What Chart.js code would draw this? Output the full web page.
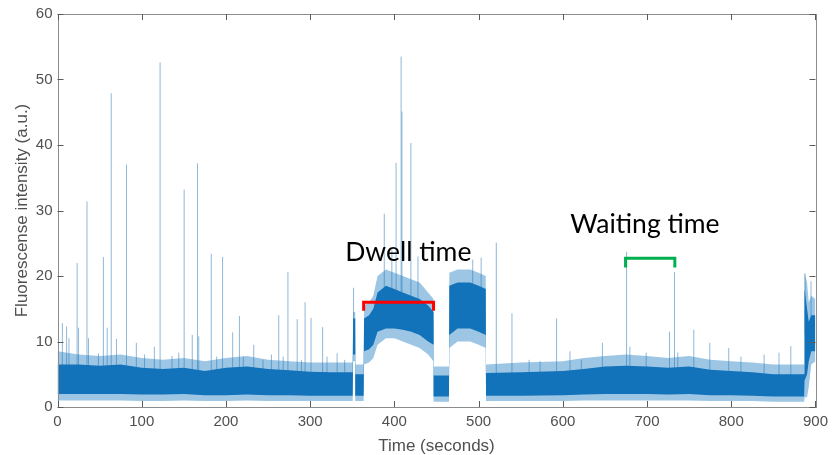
<!DOCTYPE html>
<html>
<head>
<meta charset="utf-8">
<script src="https://cdn.jsdelivr.net/npm/chart.js@4.4.0/dist/chart.umd.min.js"></script>
<style>
  html, body { margin: 0; padding: 0; background: #fff; }
  #wrap { width: 834px; height: 455px; }
</style>
</head>
<body>
<div id="wrap"><canvas id="trace"></canvas></div>
<script>
/*************** DATA ***************/
// noise band of the trace: times (s) and its edges (a.u.)
const bandTime = [0, 25, 50, 75, 100, 125, 150, 175, 200, 225, 250, 275, 300, 325, 350.5,
  351, 353.5, 353.8, 363.5,
  364, 370, 375, 380, 390, 400, 410, 420, 430, 440, 446.5,
  446.8, 464.8,
  465.2, 475, 490, 500, 508.5,
  508.8, 550, 600, 625, 650, 675, 700, 725, 750, 775, 800, 825, 850, 886.5,
  887, 890, 892, 895, 900];
const edgeLow = [1.0, 1.0, 1.0, 1.0, 0.9, 0.9, 1.0, 0.9, 0.9, 1.0, 0.9, 0.9, 0.9, 0.9, 0.9,
  7.0, 7.0, 0.9, 0.9,
  6.5, 6.8, 7.5, 9.5, 10.5, 10.5, 10.0, 9.5, 9.0, 8.0, 7.0,
  0.8, 0.8,
  9.0, 10.0, 10.0, 9.5, 9.0,
  0.9, 0.9, 0.9, 1.0, 1.0, 1.0, 1.0, 1.0, 1.0, 0.9, 0.9, 0.9, 0.8, 0.8,
  1.5, 1.5, 3.0, 6.5, 7.0];
const coreLow = [2.0, 2.0, 2.0, 2.0, 1.9, 1.9, 2.0, 1.8, 1.8, 1.9, 1.8, 1.8, 1.7, 1.7, 1.7,
  8.0, 8.0, 1.7, 1.7,
  8.5, 8.8, 9.5, 11.5, 12.0, 12.0, 11.8, 11.5, 11.0, 10.0, 9.5,
  1.6, 1.6,
  11.0, 12.0, 12.0, 11.5, 11.0,
  1.7, 1.7, 1.8, 1.9, 2.0, 2.0, 2.0, 1.9, 2.0, 1.8, 1.8, 1.7, 1.6, 1.6,
  4.0, 5.0, 7.0, 8.5, 8.5];
const coreHigh = [6.5, 6.5, 6.3, 6.5, 6.0, 5.8, 6.0, 5.5, 6.0, 6.2, 5.8, 5.6, 5.4, 5.3, 5.3,
  13.5, 13.5, 5.0, 5.0,
  13.5, 14.0, 15.0, 17.5, 18.5, 18.0, 17.5, 17.0, 16.5, 15.5, 14.5,
  4.8, 4.8,
  18.5, 19.0, 19.0, 18.5, 18.0,
  5.2, 5.3, 5.5, 5.8, 6.2, 6.3, 6.2, 6.0, 6.2, 5.7, 5.5, 5.3, 5.0, 5.0,
  18.0, 15.0, 13.0, 14.0, 14.0];
const edgeHigh = [8.5, 8.0, 7.8, 8.0, 7.5, 7.2, 7.5, 7.0, 7.5, 7.8, 7.2, 7.0, 6.8, 6.8, 6.8,
  14.5, 14.5, 6.5, 6.5,
  15.5, 16.0, 17.0, 20.0, 21.0, 20.5, 20.0, 19.5, 19.0, 17.5, 16.5,
  6.2, 6.2,
  20.5, 21.0, 21.0, 20.5, 20.0,
  6.5, 6.8, 7.0, 7.5, 7.8, 8.0, 7.8, 7.5, 7.8, 7.2, 7.0, 6.8, 6.5, 6.5,
  20.5, 19.0, 16.0, 17.0, 16.5];

// single-frame spikes: time (s) and peak (a.u.)
const spikeTime = [5.8, 10.8, 13.6, 23.3, 25.0, 35.0, 36.8, 48.6, 54.5, 59.0, 63.8, 70.0, 81.9,
  93.6, 103.4, 115.0, 121.8, 136.0, 144.0, 150.4, 160.0, 166.2, 167.7, 182.6, 189.0, 196.0,
  208.0, 216.0, 220.6, 233.0, 244.0, 254.0, 262.7, 268.0, 273.6, 284.6, 289.6, 294.0, 301.0,
  314.8, 320.0, 332.0, 341.0, 351.5, 388.0, 397.0, 402.0, 408.0, 409.0, 419.6, 428.0,
  493.0, 503.0, 521.0, 539.6, 560.0, 573.0, 592.6, 608.5, 622.0, 647.0, 675.7, 679.6, 699.0,
  726.7, 732.6, 736.5, 755.5, 774.5, 797.0, 811.5, 839.0, 856.7, 870.7, 887.6, 894.7];
const spikePeak = [12.8, 12.3, 10.5, 22.0, 12.1, 31.4, 10.5, 8.2, 22.9, 12.1, 47.9, 10.4, 37.0,
  9.8, 8.0, 9.2, 52.6, 7.8, 8.3, 33.2, 11.0, 37.2, 10.8, 23.4, 7.7, 22.9,
  11.4, 13.9, 7.7, 9.5, 7.2, 8.0, 14.0, 7.7, 20.6, 13.4, 7.2, 16.0, 13.6,
  12.2, 7.7, 8.2, 7.2, 18.2, 29.5, 24.0, 37.3, 53.5, 45.1, 40.3, 23.0,
  22.5, 22.8, 25.1, 14.3, 7.2, 7.0, 13.5, 8.5, 7.2, 9.8, 23.7, 9.2, 8.3,
  11.5, 20.6, 8.3, 11.8, 9.8, 9.0, 7.7, 8.0, 8.3, 9.3, 20.4, 19.2];

// axis ticks
const xTicks = [0, 100, 200, 300, 400, 500, 600, 700, 800, 900];
const yTicks = [0, 10, 20, 30, 40, 50, 60];

// annotations, in data units: [start, end, level, leg end] and [centre time, baseline]
const dwellBracket = [363.5, 446.5, 16.0, 14.7];
const waitBracket = [674.5, 733, 22.7, 21.3];
const dwellLabel = [416.5, 22.25];
const waitLabel = [697.5, 26.6];

/*************** BUILD SERIES ***************/
function toPoints(values) {
    return bandTime.map((t, i) => ({x: t, y: values[i]}));
}

function bandIndexAt(t) {
    let k = 0;
    for (let i = 0; i < bandTime.length; i++) {
        if (bandTime[i] <= t) k = i;
    }
    return k;
}

const spikePoints = [];
spikeTime.forEach((t, i) => {
    const k = bandIndexAt(t);
    const base = (coreLow[k] + coreHigh[k]) / 2;
    spikePoints.push({x: t, y: base}, {x: t, y: spikePeak[i]}, {x: t, y: null});
});

/*************** DRAW BOX, TICKS, NOTES ***************/
const annotate = {
    id: 'annotate',
    afterDatasetsDraw(chart) {
        const {ctx, chartArea: a} = chart;
        const x = chart.scales.x, y = chart.scales.y;
        ctx.save();

        ctx.strokeStyle = '#8c8c8c';
        ctx.lineWidth = 1;
        ctx.strokeRect(Math.round(a.left) + 0.5, Math.round(a.top) + 0.5,
            Math.round(a.right - a.left), Math.round(a.bottom - a.top));

        ctx.strokeStyle = '#5a5a5a';
        ctx.beginPath();
        xTicks.forEach(v => {
            const px = Math.round(x.getPixelForValue(v)) + 0.5;
            ctx.moveTo(px, a.bottom); ctx.lineTo(px, a.bottom - 6);
            ctx.moveTo(px, a.top); ctx.lineTo(px, a.top + 6);
        });
        yTicks.forEach(v => {
            const py = Math.round(y.getPixelForValue(v)) + 0.5;
            ctx.moveTo(a.left, py); ctx.lineTo(a.left + 6, py);
            ctx.moveTo(a.right, py); ctx.lineTo(a.right - 6, py);
        });
        ctx.stroke();

        function bracket(b, color) {
            ctx.strokeStyle = color;
            ctx.lineWidth = 3;
            ctx.lineJoin = 'miter';
            ctx.beginPath();
            ctx.moveTo(x.getPixelForValue(b[0]), y.getPixelForValue(b[3]));
            ctx.lineTo(x.getPixelForValue(b[0]), y.getPixelForValue(b[2]));
            ctx.lineTo(x.getPixelForValue(b[1]), y.getPixelForValue(b[2]));
            ctx.lineTo(x.getPixelForValue(b[1]), y.getPixelForValue(b[3]));
            ctx.stroke();
        }
        bracket(dwellBracket, '#ff0000');
        bracket(waitBracket, '#00b050');

        // fit the note font to the width of "Dwell time" in the picture
        ctx.font = '24px Lato';
        const size = 24 * 126 / ctx.measureText('Dwell time').width;
        ctx.font = size.toFixed(1) + 'px Lato';
        ctx.fillStyle = '#000';
        ctx.textAlign = 'center';
        ctx.textBaseline = 'alphabetic';
        ctx.fillText('Dwell time', x.getPixelForValue(dwellLabel[0]), y.getPixelForValue(dwellLabel[1]));
        ctx.fillText('Waiting time', x.getPixelForValue(waitLabel[0]), y.getPixelForValue(waitLabel[1]));
        ctx.restore();
    }
};

/*************** CHART ***************/
const tickFont = {family: 'Liberation Sans, Arial, sans-serif', size: 15};
const titleFont = {family: 'Liberation Sans, Arial, sans-serif', size: 17, lineHeight: 1};

const canvas = document.getElementById('trace').getContext('2d');
const traceChart = new Chart(canvas, {
    type: 'line',
    data: {
        datasets: [
            {
                label: 'spikes',
                data: spikePoints,
                borderColor: 'rgba(70,135,190,0.6)',
                borderWidth: 1,
                spanGaps: false,
                order: 3
            },
            {
                label: 'edge low',
                data: toPoints(edgeLow),
                borderWidth: 0,
                borderColor: 'rgba(0,0,0,0)',
                fill: false,
                order: 2
            },
            {
                label: 'edge high',
                data: toPoints(edgeHigh),
                borderWidth: 0,
                borderColor: 'rgba(0,0,0,0)',
                backgroundColor: 'rgba(20,118,190,0.42)',
                fill: '-1',
                order: 2
            },
            {
                label: 'core low',
                data: toPoints(coreLow),
                borderWidth: 0,
                borderColor: 'rgba(0,0,0,0)',
                fill: false,
                order: 1
            },
            {
                label: 'core high',
                data: toPoints(coreHigh),
                borderWidth: 0,
                borderColor: 'rgba(0,0,0,0)',
                backgroundColor: 'rgb(18,114,186)',
                fill: '-1',
                order: 1
            }
        ]
    },
    options: {
        responsive: true,
        maintainAspectRatio: false,
        animation: false,
        layout: {padding: {top: 14, right: 11, left: 0, bottom: 0}},
        elements: {point: {radius: 0}, line: {tension: 0}},
        plugins: {
            legend: {display: false},
            tooltip: {enabled: false}
        },
        scales: {
            x: {
                type: 'linear',
                min: 0,
                max: 900,
                afterBuildTicks: s => { s.ticks = xTicks.map(v => ({value: v})); },
                afterFit: s => { s.height = 48; },
                grid: {display: false, drawTicks: false},
                border: {display: false},
                ticks: {font: tickFont, color: '#505050', padding: 6, maxRotation: 0},
                title: {display: true, text: 'Time (seconds)', font: titleFont, color: '#505050', padding: 0}
            },
            y: {
                min: 0,
                max: 60,
                afterBuildTicks: s => { s.ticks = yTicks.map(v => ({value: v})); },
                afterFit: s => { s.width = 57.5; },
                grid: {display: false, drawTicks: false},
                border: {display: false},
                ticks: {font: tickFont, color: '#505050', padding: 5},
                title: {display: true, text: 'Fluorescense intensity (a.u.)', font: titleFont, color: '#505050', padding: 14}
            }
        }
    },
    plugins: [annotate]
});
</script>
</body>
</html>
